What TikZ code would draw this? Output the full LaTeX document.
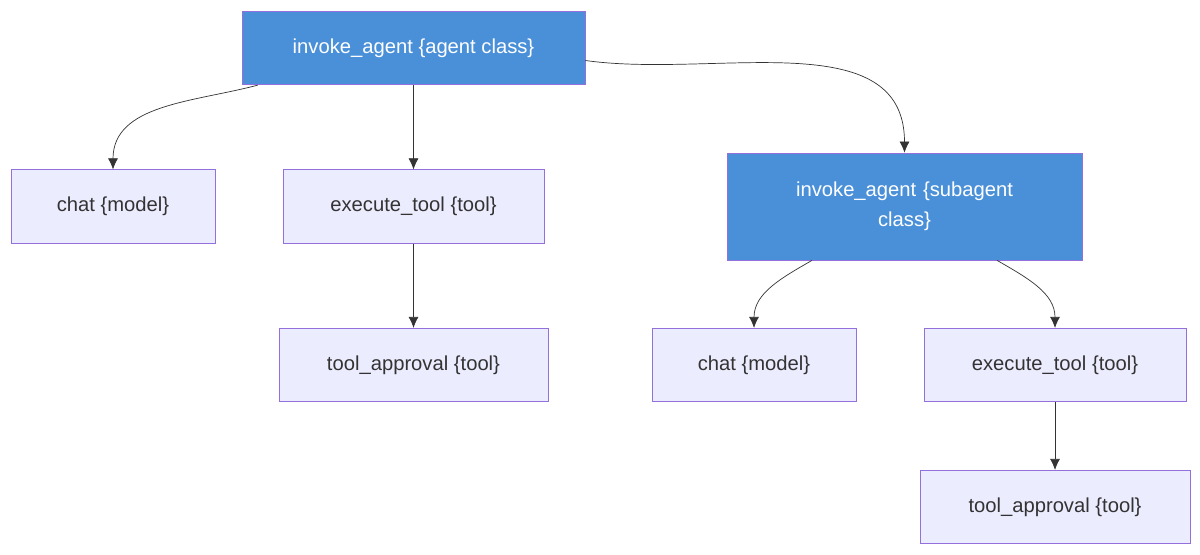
\documentclass[tikz,border=0pt]{standalone}
\usepackage{fontspec}
\setmainfont{Liberation Sans}
\usetikzlibrary{positioning,calc,arrows.meta}
\definecolor{nodefill}{HTML}{ECECFF}
\definecolor{nodeline}{HTML}{9370DB}
\definecolor{agentfill}{HTML}{4A90D9}
\definecolor{edgecol}{HTML}{333333}
\begin{document}
\begin{tikzpicture}

\tikzset{span/.style={
  rectangle,
  inner sep=0pt,
  align=center,
  draw=nodeline, fill=nodefill,
  text=edgecol,
  font=\fontsize{11.5}{17}\selectfont,
  minimum height = 14.7mm
  },
  agent/.style={span, fill=agentfill, text=white},
  link/.style={draw=edgecol, -{Latex[length=2.2mm,width=2mm]}}}

\useasboundingbox (0,0) rectangle (24,11.08);

\node[agent, minimum width=68.6mm] (root) at (8.27,10.12) {invoke\_agent \{agent class\}};
\node[span, minimum width=40.8mm] (chatA) at (2.26,6.95) {chat \{model\}};
\node[span, minimum width=52.2mm] (execA) at (8.27,6.95) {execute\_tool \{tool\}};
\node[span, minimum width=53.8mm] (apprA) at (8.27,3.78) {tool\_approval \{tool\}};
\node[agent, minimum width=71mm, minimum height=21.4mm, text width=50mm] (sub) at (18.09,6.95) {invoke\_agent \{subagent\\ class\}};
\node[span, minimum width=40.8mm] (chatB) at (15.08,3.78) {chat \{model\}};
\node[span, minimum width=52.4mm] (execB) at (21.1,3.78) {execute\_tool \{tool\}};
\node[span, minimum width=54mm] (apprB) at (21.1,0.94) {tool\_approval \{tool\}};

\path[link] ($(root.south west)!0.047!(root.south east)$) to[out=195, in=90] (chatA.north);
\path[link] (root) -- (execA);
\path[link] (execA) -- (apprA);
\path[link] ($(root.east)+(0,-0.25)$) to[out=-8, in=90] (sub.north);
\path[link] ($(sub.south west)!0.24!(sub.south east)$) to[out=210, in=90] (chatB.north);
\path[link] ($(sub.south west)!0.76!(sub.south east)$) to[out=-30, in=90] (execB.north);
\path[link] (execB) -- (apprB);
\end{tikzpicture}
\end{document}
